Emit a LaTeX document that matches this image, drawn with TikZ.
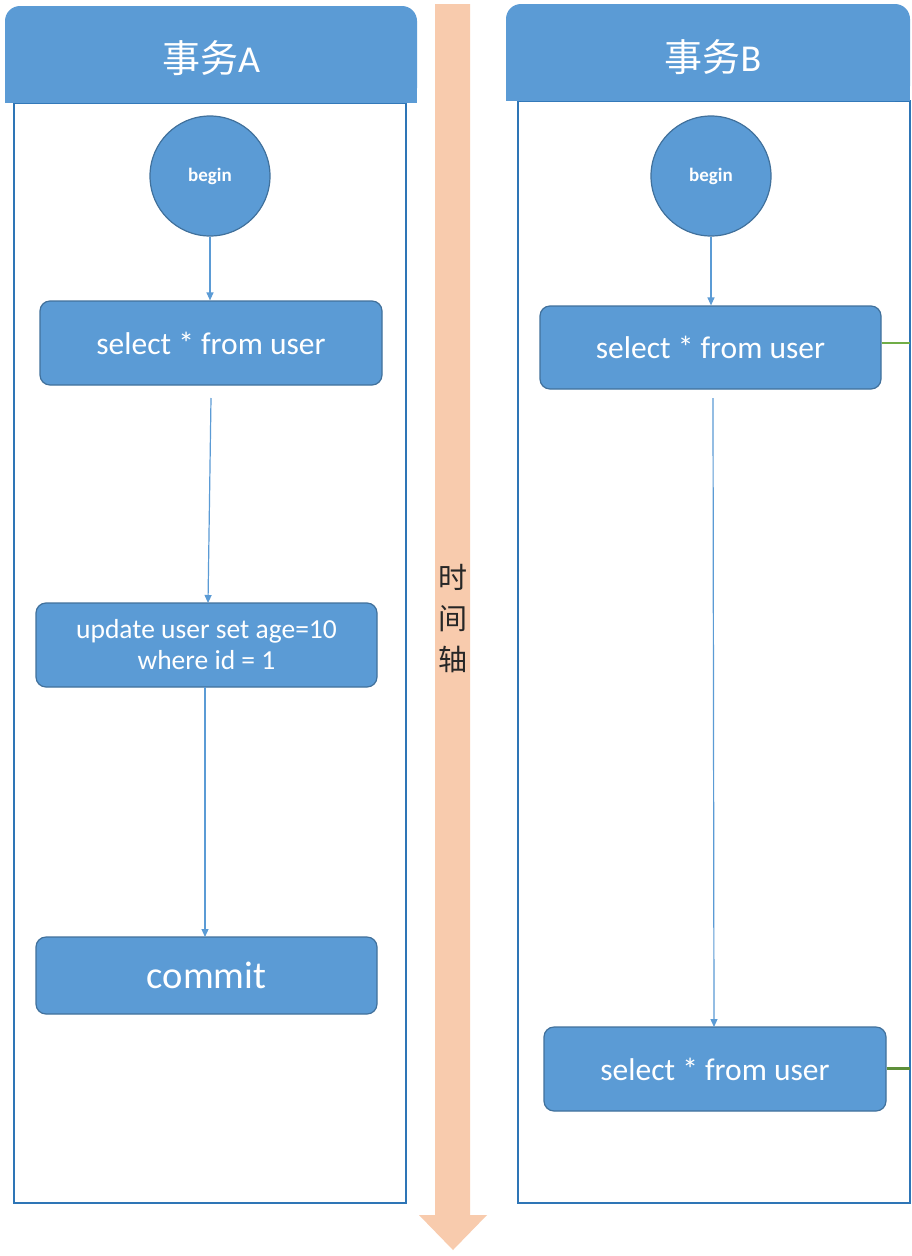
\documentclass[tikz,border=0pt]{standalone}
\usepackage{fontspec}
\setmainfont{Carlito}
\newfontfamily\cjk{Noto Sans CJK SC}
\usetikzlibrary{arrows.meta}
\definecolor{boxfill}{HTML}{5B9BD5}
\definecolor{boxedge}{HTML}{41719C}
\definecolor{laneedge}{HTML}{2E75B6}
\definecolor{axisfill}{HTML}{F8CBAD}
\definecolor{linkgreen}{HTML}{70AD47}
\definecolor{linkdark}{HTML}{5E8F3A}
\tikzset{
  lanebody/.style={draw=laneedge, line width=1.8pt, fill=white},
  headfill/.style={fill=boxfill},
  headtext/.style={text=white, font=\fontsize{38}{44}\selectfont},
  stepbox/.style={draw=boxedge, line width=1.2pt, fill=boxfill, rounded corners=10pt,
    text=white, align=center, inner sep=0pt},
  startnode/.style={circle, draw=boxedge, line width=1.2pt, fill=boxfill, text=white,
    minimum size=120pt, inner sep=0pt, font=\bfseries\fontsize{19}{22}\selectfont},
  flow/.style={draw=boxfill, line width=1.2pt, -{Triangle[length=8pt,width=7pt]}},
}
\begin{document}
\begin{tikzpicture}[x=1pt, y=-1pt]
\useasboundingbox (0,0) rectangle (911,1256);
\fill[white] (0,0) rectangle (911,1256);

% time axis: a wide arrow pointing down
\fill[axisfill] (435,4) -- (470,4) -- (470,1215) -- (487,1215) -- (453,1250)
  -- (419,1215) -- (435,1215) -- cycle;
\node[font=\cjk\fontsize{29}{41}\selectfont, align=center, text=black!85] (axis) at (453,619)
  {时\\间\\轴};

% lane A
\draw[lanebody] (14,103) rectangle (406,1203);
\fill[headfill, rounded corners=15pt] (5,6) rectangle (417,103);
\fill[headfill] (5,50) rectangle (417,103);
\node[headtext] (headA) at (211,58) {{\cjk 事务}A};

% lane B
\draw[lanebody] (518,101) rectangle (910,1203);
\fill[headfill, rounded corners=15pt] (506,4) rectangle (910,101);
\fill[headfill] (506,50) rectangle (910,101);
\node[headtext] (headB) at (713,57) {{\cjk 事务}B};

% steps of transaction A
\node[startnode] (beginA) at (210,176) {begin};
\node[stepbox, minimum width=342pt, minimum height=84pt, font=\fontsize{31.5}{36}\selectfont]
  (selA) at (211,343) {select * from user};
\node[stepbox, minimum width=341pt, minimum height=84pt, font=\fontsize{27.5}{31}\selectfont]
  (updA) at (206.5,645) {update user set age=10\\where id = 1};
\node[stepbox, minimum width=341pt, minimum height=77pt, font=\fontsize{38.5}{44}\selectfont]
  (comA) at (206.5,975.5) {commit};

\draw[flow] (beginA.south) -- (beginA.south |- selA.north);
\coordinate (a1) at (211,398);
\draw[flow] (a1) -- (208,603);
\draw[flow] (205,687) -- (205,937);

% steps of transaction B
\node[startnode] (beginB) at (711,176) {begin};
\node[stepbox, minimum width=341pt, minimum height=83pt, font=\fontsize{31.5}{36}\selectfont]
  (selB1) at (710.5,347.5) {select * from user};
\node[stepbox, minimum width=342pt, minimum height=84pt, font=\fontsize{31.5}{36}\selectfont]
  (selB2) at (715,1069) {select * from user};

\draw[flow] (beginB.south) -- (beginB.south |- selB1.north);
\coordinate (b1) at (713,398);
\draw[flow] (b1) -- (714,1027);

% links leaving lane B on the right
\coordinate (outB1) at (910,343);
\coordinate (outB2) at (910,1068);
\draw[linkgreen, line width=1.4pt] (selB1.east |- outB1) -- (outB1);
\draw[linkdark, line width=3pt] (selB2.east |- outB2) -- (outB2);
\end{tikzpicture}
\end{document}
